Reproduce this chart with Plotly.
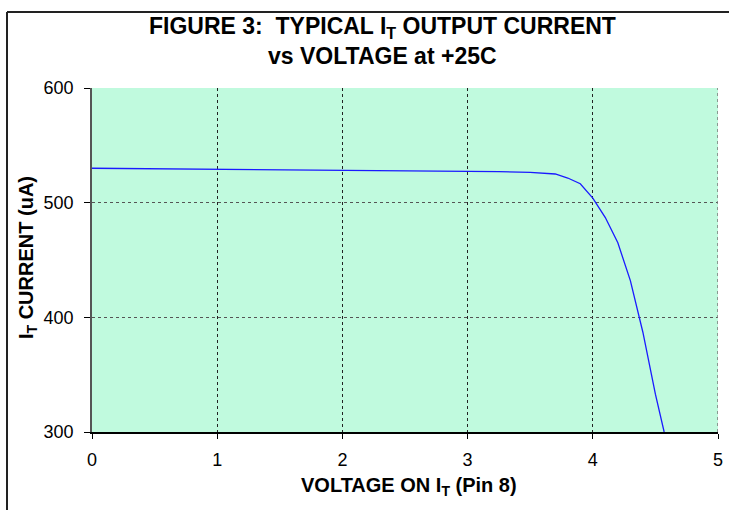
import plotly.graph_objects as go

voltage = [0, 0.5, 1.0, 1.5, 2.0, 2.5, 3.0, 3.25, 3.5, 3.7, 3.8, 3.9, 4.0, 4.1, 4.2, 4.3, 4.4, 4.5, 4.57]
current = [530, 529.6, 529.2, 528.8, 528.4, 528.0, 527.4, 527.0, 526.5, 525.0, 521.5, 516.5, 504, 487, 465, 432, 387, 333, 300]

x_ticks = [0, 1, 2, 3, 4, 5]
y_ticks = [300, 400, 500, 600]

title_line1 = "FIGURE 3:  TYPICAL I<sub>T</sub> OUTPUT CURRENT"
title_line2 = "vs VOLTAGE at +25C"
x_title = "VOLTAGE ON I<sub>T</sub> (Pin 8)"
y_title = "I<sub>T</sub> CURRENT (uA)"

FONT = "Liberation Sans, Arial, sans-serif"

# plot area in pixels
L, R, T, B = 92, 718, 88, 432
W_PX, H_PX = 729, 510
px_x = lambda p: (p - L) / (R - L)
px_y = lambda p: (B - p) / (B - T)

fig = go.Figure()
fig.add_trace(go.Scatter(x=voltage, y=current, mode="lines",
                         line=dict(color="#1a1aff", width=1.3), showlegend=False))

fig.update_layout(
    width=W_PX, height=H_PX,
    margin=dict(l=L, r=W_PX - R, t=T, b=H_PX - B, pad=0),
    paper_bgcolor="white",
    plot_bgcolor="#C0FADE",
    font=dict(family=FONT, color="black"),
    xaxis=dict(
        range=[0, 5], tickvals=x_ticks, ticktext=[str(v) for v in x_ticks],
        showgrid=True, gridcolor="#222", griddash="dot", gridwidth=1,
        zeroline=False, showline=True, linecolor="black", linewidth=1.5,
        ticks="outside", ticklen=5, tickcolor="black",
        tickfont=dict(size=18), ticklabelstandoff=6,
        automargin=False,
    ),
    yaxis=dict(
        range=[300, 600], tickvals=y_ticks, ticktext=[str(v) for v in y_ticks],
        showgrid=True, gridcolor="#555", griddash="dot", gridwidth=1,
        zeroline=False, showline=True, linecolor="#555", linewidth=1.5,
        ticks="outside", ticklen=6, tickcolor="black",
        tickfont=dict(size=18), ticklabelstandoff=7,
        automargin=False,
    ),
)

ann = dict(xref="paper", yref="paper", showarrow=False, xanchor="center", yanchor="middle")
fig.add_annotation(text=f"<b>{title_line1}</b>", x=px_x(382), y=px_y(28),
                   font=dict(size=23, family=FONT), **ann)
fig.add_annotation(text=f"<b>{title_line2}</b>", x=px_x(382), y=px_y(56),
                   font=dict(size=23, family=FONT), **ann)
fig.add_annotation(text=f"<b>{x_title}</b>", x=px_x(409), y=px_y(486),
                   font=dict(size=20, family=FONT), **ann)
fig.add_annotation(text=f"<b>{y_title}</b>", x=px_x(27), y=px_y(258), textangle=-90,
                   font=dict(size=20, family=FONT), **ann)

# right edge dotted line (gridline at x=5)
fig.add_shape(type="line", xref="x", yref="y", x0=5, x1=5, y0=300, y1=600,
              line=dict(color="#777", width=1.5, dash="dot"))

# outer chart border (left and top)
fig.add_shape(type="line", xref="paper", yref="paper",
              x0=px_x(7), x1=px_x(7), y0=px_y(12), y1=px_y(512),
              line=dict(color="#222", width=2))
fig.add_shape(type="line", xref="paper", yref="paper",
              x0=px_x(7), x1=px_x(729), y0=px_y(12), y1=px_y(12),
              line=dict(color="#222", width=2))

fig.write_html("out.html",
               config={"displayModeBar": False},
               post_script="document.body.style.margin='0';document.body.style.overflow='hidden';")
